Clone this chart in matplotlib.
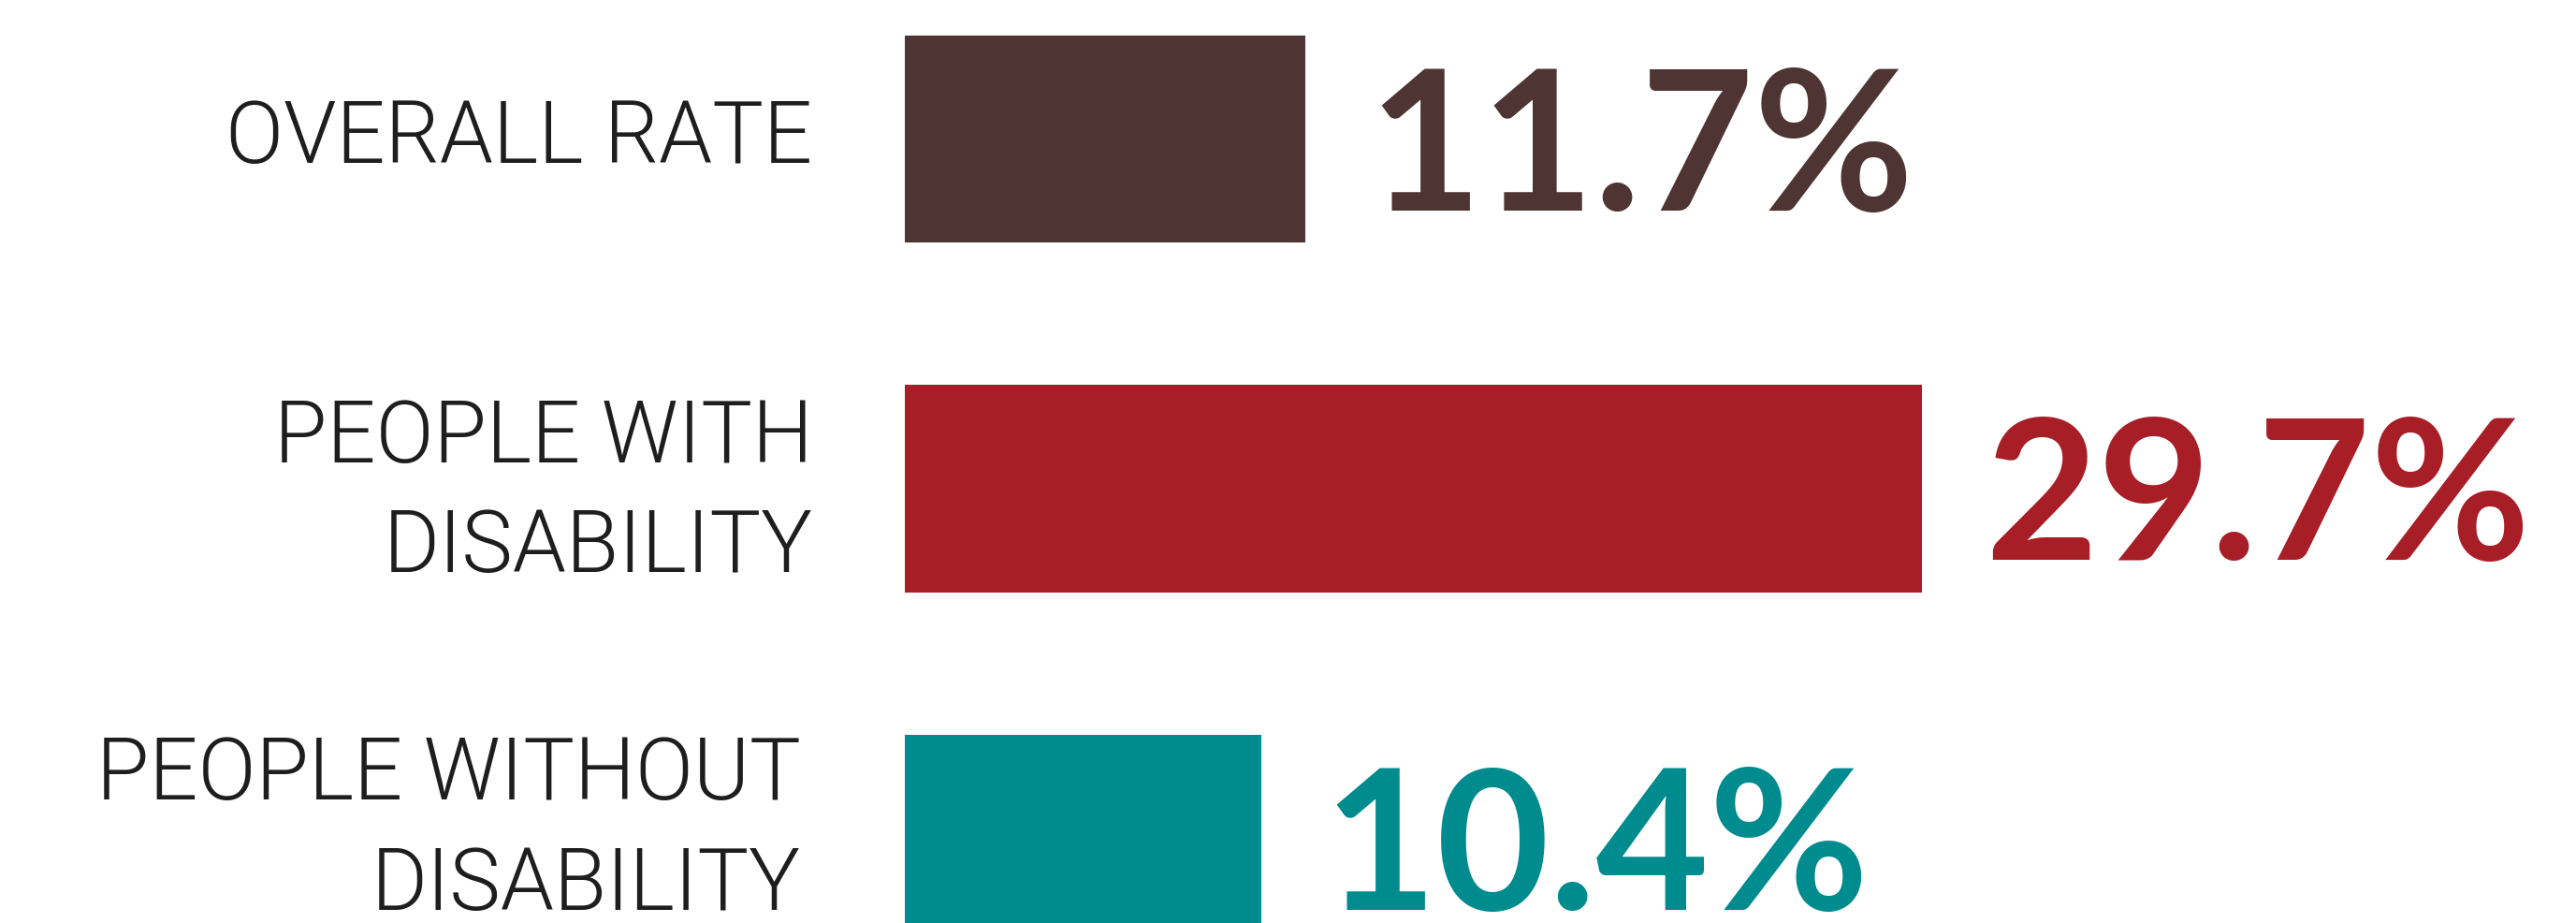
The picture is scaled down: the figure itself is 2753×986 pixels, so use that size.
import matplotlib.pyplot as plt
from matplotlib.transforms import ScaledTranslation
import numpy as np

# unemployment rates by group
categories = ['OVERALL RATE', 'PEOPLE WITH\nDISABILITY', 'PEOPLE WITHOUT\nDISABILITY']
rates = [11.7, 29.7, 10.4]
colors = ['#4e3433', '#a81e27', '#008b8e']

W, H, DPI = 2753, 987, 100
fig = plt.figure(figsize=(W / DPI, H / DPI), dpi=DPI, facecolor='white')

# axes starts where the bars start, runs to the right edge
x0 = 967
px_per_unit = 36.6
ax = fig.add_axes([x0 / W, 0, 1 - x0 / W, 1])
ax.set_xlim(0, (W - x0) / px_per_unit)

# bar centres every 373.5 px, first one 149.5 px from the top
step = 373.5
ax.set_ylim((H - 149.5) / step, -149.5 / step)

y = np.arange(len(rates))
ax.barh(y, rates, height=0.594, color=colors, left=0)

# percentage labels next to each bar
for yi, v, c in zip(y, rates, colors):
    ax.annotate(f'{v:.1f}%', xy=(v, yi), xytext=(48, -54),
                textcoords='offset points', ha='left', va='baseline',
                fontsize=150, fontweight='bold', family='Lato', color=c)

ax.set_yticks(y)
ax.set_yticklabels(categories, fontsize=66, family='Roboto', fontweight=300,
                   color='#1e1e1e', linespacing=1.42)
ax.tick_params(axis='y', length=0, pad=71)
ax.set_xticks([])
for s in ax.spines.values():
    s.set_visible(False)

# small nudges (pixels) so the label blocks sit a bit high of the bar centres
nudges = [(0, 10), (0, 20), (-13, 33)]
for lab, (dx, dy) in zip(ax.get_yticklabels(), nudges):
    lab.set_transform(lab.get_transform() +
                      ScaledTranslation(dx / DPI, dy / DPI, fig.dpi_scale_trans))

fig.savefig('out.png', dpi=DPI, facecolor='white')
